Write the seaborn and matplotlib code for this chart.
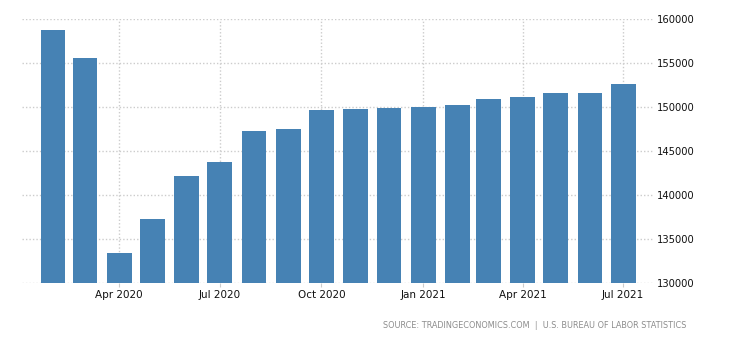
import matplotlib
matplotlib.use("Agg")
import matplotlib.pyplot as plt
import matplotlib.dates as mdates
import pandas as pd
import seaborn as sns

# Monthly employed persons, thousands
months = ["2020-02", "2020-03", "2020-04", "2020-05", "2020-06", "2020-07",
          "2020-08", "2020-09", "2020-10", "2020-11", "2020-12", "2021-01",
          "2021-02", "2021-03", "2021-04", "2021-05", "2021-06", "2021-07"]
employed = [158800, 155600, 133450, 137300, 142200, 143800,
            147300, 147550, 149700, 149800, 149900, 150050,
            150250, 150950, 151150, 151600, 151600, 152650]

tick_dates = ["2020-04-01", "2020-07-01", "2020-10-01",
              "2021-01-01", "2021-04-01", "2021-07-01"]
tick_labels = ["Apr 2020", "Jul 2020", "Oct 2020", "Jan 2021", "Apr 2021", "Jul 2021"]
y_ticks = [130000, 135000, 140000, 145000, 150000, 155000, 160000]

sns.set_theme(style="white")
plt.rcParams["font.family"] = ["DejaVu Sans"]

df = pd.DataFrame({
    "date": mdates.date2num(pd.to_datetime(months)),
    "employed": employed,
})

fig = plt.figure(figsize=(7.3, 3.4), dpi=100)
ax = fig.add_axes([22 / 730, 1 - 283 / 340, (653 - 22) / 730, (283 - 19.3) / 340])

sns.barplot(data=df, x="date", y="employed", native_scale=True,
            color="#4682b4", saturation=1, width=0.8, errorbar=None,
            linewidth=0, edgecolor="none", ax=ax)

ax.set_ylim(130000, 160000)
ax.set_xlim(mdates.date2num(pd.Timestamp("2020-01-04")),
            mdates.date2num(pd.Timestamp("2021-07-28")))

ax.set_xticks(mdates.date2num(pd.to_datetime(tick_dates)))
ax.set_xticklabels(tick_labels)
ax.set_yticks(y_ticks)
ax.set_yticklabels([str(v) for v in y_ticks])
ax.yaxis.tick_right()

ax.tick_params(axis="x", length=3, width=0.8, color="#cccccc", pad=2,
               labelsize=7.5, labelcolor="#111111", bottom=True)
ax.tick_params(axis="y", length=0, pad=2.5, labelsize=7.2, labelcolor="#111111",
               right=False, left=False)

ax.grid(True, color="#cccccc", linestyle=(0, (1, 1.5)), linewidth=1)
ax.set_axisbelow(True)
for s in ax.spines.values():
    s.set_visible(False)
ax.set_xlabel("")
ax.set_ylabel("")

fig.text(686 / 730, 1 - 325 / 340,
         "SOURCE: TRADINGECONOMICS.COM  |  U.S. BUREAU OF LABOR STATISTICS",
         ha="right", va="center", fontsize=5.9, color="#8c8c8c")

fig.savefig("out.png", dpi=100)
